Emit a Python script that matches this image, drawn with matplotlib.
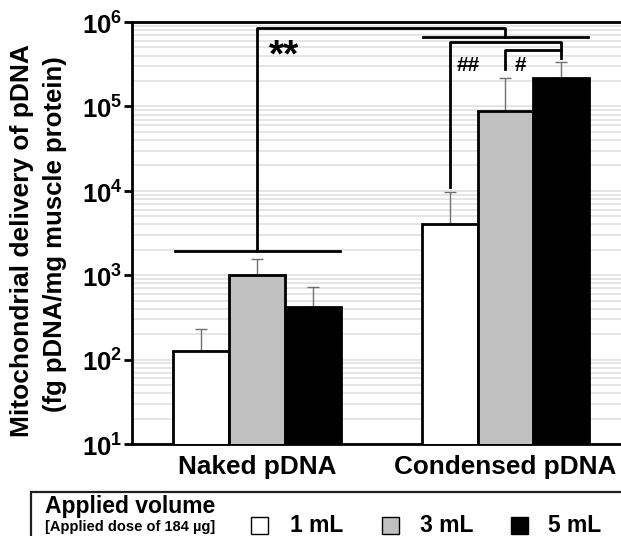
import matplotlib
matplotlib.use("Agg")
import matplotlib.pyplot as plt
import numpy as np
from matplotlib.patches import Rectangle
from matplotlib.ticker import LogLocator, NullFormatter

plt.rcParams["font.family"] = ["Liberation Sans", "DejaVu Sans"]
plt.rcParams["font.weight"] = "bold"
plt.rcParams["mathtext.fontset"] = "custom"
plt.rcParams["mathtext.rm"] = "Liberation Sans:bold"
plt.rcParams["mathtext.bf"] = "Liberation Sans:bold"

groups = ["Naked pDNA", "Condensed pDNA"]
volumes = ["1 mL", "3 mL", "5 mL"]
colors = ["white", "#c0c0c0", "black"]
# mean and upper SD per volume, for naked / condensed
means = {
    "1 mL": [128, 4100],
    "3 mL": [1000, 88000],
    "5 mL": [420, 220000],
}
upper_err = {
    "1 mL": [100, 5500],
    "3 mL": [550, 130000],
    "5 mL": [300, 112000],
}
yticks = [1e1, 1e2, 1e3, 1e4, 1e5, 1e6]
ytick_labels = [r"$10^{1}$", r"$10^{2}$", r"$10^{3}$", r"$10^{4}$", r"$10^{5}$", r"$10^{6}$"]

fig = plt.figure(figsize=(6.21, 5.36), dpi=100)
ax = fig.add_axes([0.2126, 0.1716, 0.7874, 0.7873])

x = np.arange(len(groups))
width = 0.225
offsets = [-width, 0, width]
for vol, c, off in zip(volumes, colors, offsets):
    ax.bar(x + off, means[vol], width=width, color=c, edgecolor="black",
           linewidth=2, bottom=0, zorder=3)
    ax.errorbar(x + off, means[vol], yerr=[[0, 0], upper_err[vol]], fmt="none",
                ecolor="#707070", elinewidth=1, capsize=4, capthick=1, zorder=2)

ax.set_yscale("log")
ax.set_ylim(10, 1e6)
ax.set_xlim(-0.503, 1.465)
ax.set_yticks(yticks)
ax.set_yticklabels(ytick_labels, fontsize=18.5)
ax.yaxis.set_minor_locator(LogLocator(base=10, subs=np.arange(2, 10)))
ax.yaxis.set_minor_formatter(NullFormatter())
ax.tick_params(axis="y", which="major", length=6, width=2, pad=1)
ax.tick_params(axis="y", which="minor", length=0)
ax.grid(True, axis="y", which="both", color="#e0e0e0", linewidth=1.2, zorder=0)
ax.set_axisbelow(True)
ax.set_xticks(x)
ax.set_xticklabels(groups, fontsize=18.8, fontweight="bold")
ax.tick_params(axis="x", length=0, pad=8)
for s in ["left", "top", "bottom"]:
    ax.spines[s].set_linewidth(2)
ax.spines["right"].set_visible(False)

# significance brackets
lw = 2
ax.plot([x[0] - 0.33, x[0] + 0.334], [1930, 1930], color="black", lw=lw, zorder=4)
ax.plot([x[0], x[0], x[1], x[1]], [1930, 850000, 850000, 663000], color="black", lw=lw, zorder=4)
ax.plot([x[1] - 0.33, x[1] + 0.334], [663000, 663000], color="black", lw=lw, zorder=4)
ax.text(x[0] + 0.11, 630000, "**", fontsize=28, fontweight="bold", ha="center", va="top", zorder=5)
ax.plot([x[1] - width, x[1] - width, x[1] + width, x[1] + width],
        [11200, 578000, 578000, 373000], color="black", lw=lw, zorder=4)
ax.plot([x[1], x[1], x[1] + width], [276000, 464000, 464000], color="black", lw=lw, zorder=4)
ax.text(x[1] - width + 0.075, 305000, "##", fontsize=15, fontweight="bold", ha="center", va="center", zorder=5)
ax.text(x[1] + 0.06, 305000, "#", fontsize=15, fontweight="bold", ha="center", va="center", zorder=5)

fig.text(0.035, 0.552, "Mitochondrial delivery of pDNA", rotation=90, fontsize=19,
         fontweight="bold", ha="center", va="center")
fig.text(0.089, 0.563, "(fg pDNA/mg muscle protein)", rotation=90, fontsize=18.5,
         fontweight="bold", ha="center", va="center")

# legend box
W, H = 621, 536
fig.patches.append(Rectangle((31 / W, -0.1), 1.2, (H - 492) / H + 0.1, transform=fig.transFigure,
                             fill=False, edgecolor="#202020", linewidth=1.6))
fig.text(45 / W, 1 - 507 / H, "Applied volume", fontsize=16.5, fontweight="bold", va="center")
fig.text(45 / W, 1 - 527 / H, "[Applied dose of 184 \u00b5g]", fontsize=10.5, fontweight="bold", va="center")
key_x = [251, 382, 511]
text_x = [290, 420, 548]
for vol, c, kx, tx in zip(volumes, colors, key_x, text_x):
    fig.patches.append(Rectangle((kx / W, 1 - 534 / H), 17 / W, 17 / H, transform=fig.transFigure,
                                 facecolor=c, edgecolor="black", linewidth=1))
    fig.text(tx / W, 1 - 525 / H, vol, fontsize=16.5, fontweight="bold", va="center")

fig.savefig("out.png", dpi=100)
